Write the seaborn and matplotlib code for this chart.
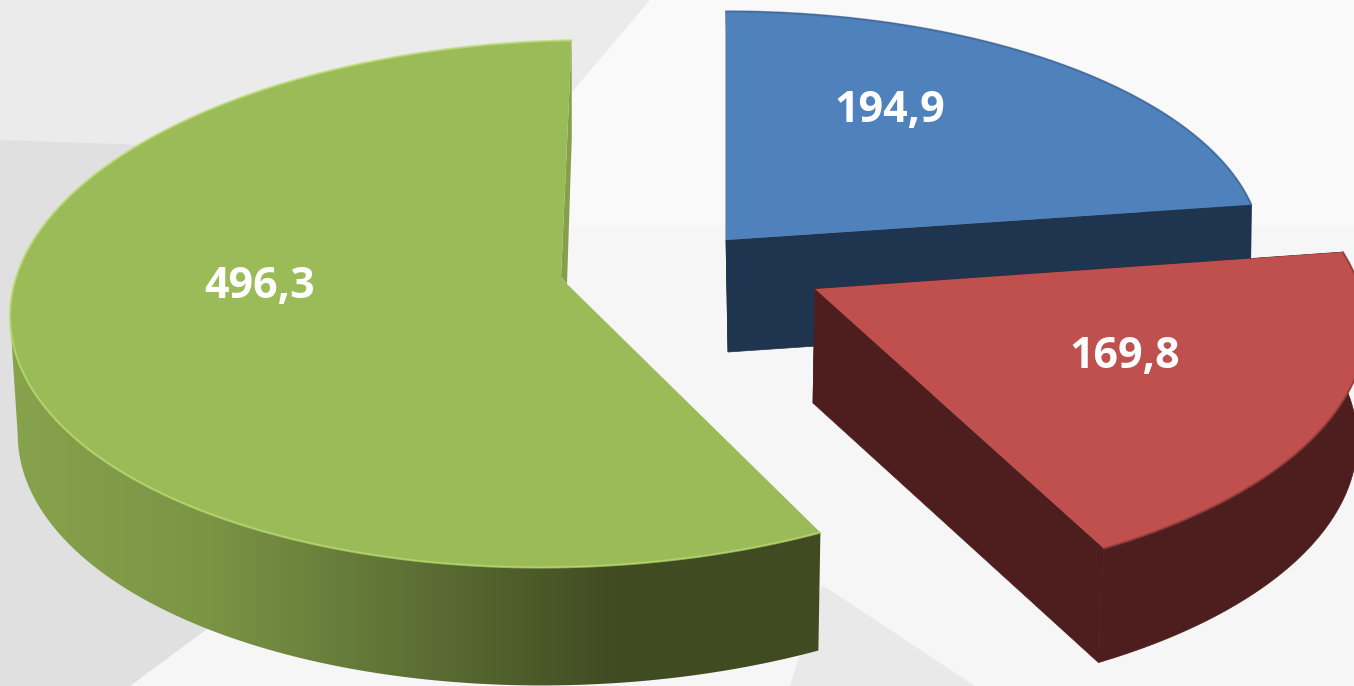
import numpy as np
import matplotlib
matplotlib.use("Agg")
import matplotlib.pyplot as plt
from matplotlib.patches import Polygon
import seaborn as sns

# --- data ---
series_names = ["Blue", "Red", "Green"]
series_values = [194.9, 169.8, 496.3]
value_labels = ["194,9", "169,8", "496,3"]

# --- style ---
top_colors = ["#4f81bd", "#c0504d", "#9bbb59"]
wall_colors = ["#1f344f", "#4e1e1f", "#404b21"]
rim_colors = ["#3f6a9e", "#8f3a38", "#b9dd70"]
# cx, cy, a, b, k, s, t, start_inset, depth_dx, depth_dy, shrink
geometry = [
    (726, 240, 535, 240, 0.05, 0, 0, 0.0, 2, 112, 0.006),
    (815, 289, 545, 255, 0.145, 0, 0, 0.0, -2, 114, 0.012),
    (567, 284, 555, 262, 0.075, 5, 10, 1.8, 1, 118, 0.012),
]
label_xy = [(890, 110), (1125, 356), (260, 286)]

sns.set_theme(style="white")
plt.rcParams["font.family"] = ["Open Sans", "DejaVu Sans"]

fig = plt.figure(figsize=(13.54, 6.86), dpi=100)
ax = fig.add_axes([0, 0, 1, 1])

# background panels
ax.add_patch(Polygon([(0, 0), (1354, 0), (1354, 686), (0, 686)], fc="#f6f6f6", ec="none", zorder=0))
ax.add_patch(Polygon([(570, 0), (1354, 0), (1354, 225), (570, 225)], fc="#f9f9f9", ec="none", zorder=0.1))
ax.add_patch(Polygon([(0, 0), (650, 0), (565, 100), (300, 150), (0, 140)], fc="#ebebeb", ec="none", zorder=0.2))
ax.add_patch(Polygon([(0, 140), (300, 150), (300, 560), (130, 686), (0, 686)], fc="#e0e0e0", ec="none", zorder=0.2))
ax.add_patch(Polygon([(822, 585), (975, 686), (790, 686)], fc="#e9e9e9", ec="none", zorder=0.2))


def project(theta_deg, g):
    cx, cy, a, b, k, s, t = g[:7]
    th = np.radians(theta_deg)
    u, v = np.sin(th), np.cos(th)
    w = 1 + k * v
    return cx + (a * u + s * v) / w, cy - (b * v + t * u) / w


def drop(x, y, g):
    return x + g[8] - g[10] * (x - g[0]), y + g[9]


values = np.array(series_values, dtype=float)
sweeps = values / values.sum() * 360.0
starts = np.concatenate([[0.0], np.cumsum(sweeps)[:-1]])

gradient = sns.blend_palette(["#88a34c", "#7a9445", "#5d7035", "#404b21", "#404b21"], n_colors=256, as_cmap=True)

order = [0, 2, 1]
for n, i in enumerate(order):
    g = geometry[i]
    z = 1 + n * 3
    th = np.linspace(starts[i] + g[7], starts[i] + sweeps[i], 300)
    ax_x, ax_y = project(th, g)
    cx, cy = float(g[0]), float(g[1])
    bx, by = drop(ax_x, ax_y, g)
    ox, oy = drop(cx, cy, g)
    if i == 2:
        last = int(np.argmin(ax_x)) + 1
        arc_face = np.column_stack([np.r_[ax_x[:last], bx[:last][::-1]], np.r_[ax_y[:last], by[:last][::-1]]])
        img = np.linspace(0, 1, 256)[None, :]
        im = ax.imshow(img, extent=(5, 824, 686, 0), cmap=gradient, aspect="auto", zorder=z)
        clip = Polygon(arc_face, transform=ax.transData, fc="none", ec="none")
        ax.add_patch(clip)
        im.set_clip_path(clip)
        # inner face seen as a thin sliver beside the slice's upright edge
        inner = (cx - 6, cy - 7)
        mid = (ax_x[-1] + 2 + 0.4 * (cx - ax_x[-1]), ax_y[-1] + 0.4 * (cy - ax_y[-1]))
        ax.add_patch(Polygon([(ax_x[-1], ax_y[-1]), mid, (cx, cy), inner],
                             fc="#84a04a", ec="none", zorder=z + 1))
        top = np.vstack([[cx, cy], np.column_stack([ax_x, ax_y]), inner])
    else:
        arc_face = np.column_stack([np.r_[ax_x, bx[::-1]], np.r_[ax_y, by[::-1]]])
        start_face = np.array([[cx, cy], [ax_x[0], ax_y[0]], [bx[0], by[0]], [ox, oy]])
        end_face = np.array([[cx, cy], [ax_x[-1], ax_y[-1]], [bx[-1], by[-1]], [ox, oy]])
        for f in (arc_face, start_face, end_face):
            ax.add_patch(Polygon(f, fc=wall_colors[i], ec=wall_colors[i], lw=0.5, zorder=z))
        top = np.column_stack([np.r_[cx, ax_x], np.r_[cy, ax_y]])
    ax.add_patch(Polygon(top, fc=top_colors[i], ec="none", zorder=z + 1))
    ax.plot(ax_x, ax_y, color=rim_colors[i], lw=1.6, alpha=0.7, zorder=z + 1.5, solid_capstyle="round")

ax.set_xlim(0, 1354)
ax.set_ylim(686, 0)
ax.axis("off")

for lab, (x, y) in zip(value_labels, label_xy):
    ax.text(x, y, lab, color="white", fontsize=31, fontweight="bold", ha="center", va="center", zorder=20)

fig.savefig("out.png", dpi=100)
